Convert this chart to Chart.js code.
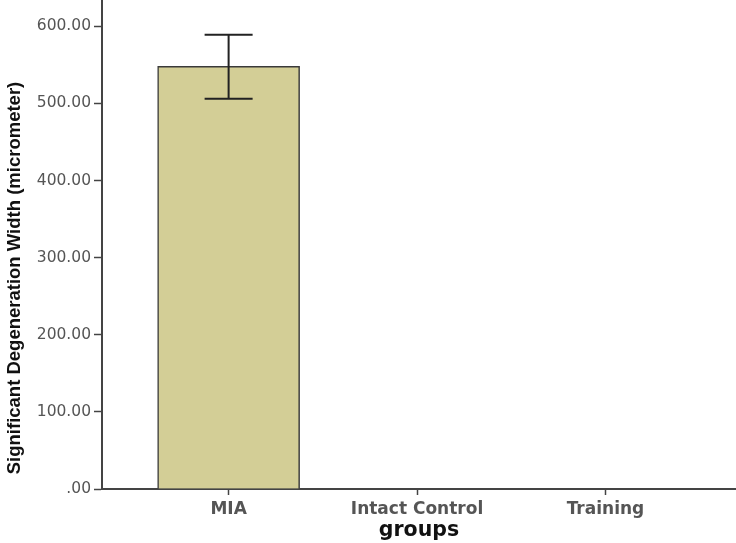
<!DOCTYPE html>
<html>
<head>
<meta charset="utf-8">
<script src="https://cdn.jsdelivr.net/npm/chart.js@4/dist/chart.umd.min.js"></script>
<style>
  html, body { margin: 0; padding: 0; background: #fff; }
  #wrap { width: 736px; height: 543px; position: relative; }
</style>
</head>
<body>
<div id="wrap"><canvas id="c" width="736" height="543"></canvas></div>
<script>
const categories = ["MIA", "Intact Control", "Training"];
const meanWidth = [548, 0, 0];
const errLow = [506, null, null];
const errHigh = [589, null, null];
const yTicks = [0, 100, 200, 300, 400, 500, 600];
const yTitle = "Significant Degeneration Width (micrometer)";
const xTitle = "groups";

const points = categories.map((c, i) => ({ x: i, y: meanWidth[i] }));

const errorBarPlugin = {
  id: 'errorBars',
  afterDatasetsDraw(chart) {
    const { ctx, scales: { x, y } } = chart;
    ctx.save();
    ctx.strokeStyle = '#222';
    ctx.lineWidth = 2;
    for (let i = 0; i < categories.length; i++) {
      if (errLow[i] == null || errHigh[i] == null) continue;
      const cx = x.getPixelForValue(i);
      const yl = y.getPixelForValue(errLow[i]);
      const yh = y.getPixelForValue(errHigh[i]);
      const half = 24;
      ctx.beginPath();
      ctx.moveTo(cx, yl); ctx.lineTo(cx, yh);
      ctx.moveTo(cx - half, yl); ctx.lineTo(cx + half, yl);
      ctx.moveTo(cx - half, yh); ctx.lineTo(cx + half, yh);
      ctx.stroke();
    }
    ctx.restore();
  }
};

const yTitlePlugin = {
  id: 'yTitle',
  afterDraw(chart) {
    const ctx = chart.ctx;
    ctx.save();
    ctx.translate(15, 278);
    ctx.rotate(-Math.PI / 2);
    ctx.font = 'bold 18.5px "Liberation Sans Narrow", "Liberation Sans", sans-serif';
    ctx.fillStyle = '#111';
    ctx.textAlign = 'center';
    ctx.textBaseline = 'middle';
    ctx.fillText(yTitle, 0, 0);
    ctx.restore();
  }
};

new Chart(document.getElementById('c'), {
  type: 'bar',
  data: {
    datasets: [{
      data: points,
      backgroundColor: (ctx) => (ctx.raw && ctx.raw.y > 0 ? '#d3ce96' : 'rgba(0,0,0,0)'),
      borderColor: '#3a3a3a',
      borderWidth: (ctx) => (ctx.raw && ctx.raw.y > 0 ? 1.5 : 0),
      borderSkipped: 'start',
      barThickness: 142
    }]
  },
  options: {
    responsive: false,
    animation: false,
    layout: { padding: 0 },
    plugins: { legend: { display: false }, tooltip: { enabled: false } },
    scales: {
      x: {
        type: 'linear',
        offset: false,
        min: -0.672,
        max: 2.693,
        afterBuildTicks: (s) => { s.ticks = categories.map((c, i) => ({ value: i })); },
        afterFit: (s) => { s.height = 54; s.paddingLeft = 0; s.paddingRight = 0; },
        border: { display: true, color: '#444', width: 2 },
        grid: { offset: false, drawOnChartArea: false, drawTicks: true, tickLength: 6, color: '#444', tickWidth: 1.5 },
        ticks: {
          autoSkip: false,
          maxRotation: 0,
          padding: 4,
          color: '#555',
          font: { family: 'DejaVu Sans', size: 17, weight: 'bold' },
          callback: (v) => categories[v] ?? ''
        },
        title: {
          display: true,
          text: xTitle,
          color: '#111',
          font: { family: 'DejaVu Sans', size: 20.5, weight: 'bold' },
          padding: { top: 0, bottom: 0 }
        }
      },
      y: {
        min: 0,
        max: 634,
        afterBuildTicks: (s) => { s.ticks = yTicks.map(v => ({ value: v })); },
        afterFit: (s) => { s.width = 102; s.paddingTop = 0; s.paddingBottom = 0; },
        border: { display: true, color: '#444', width: 2 },
        grid: { drawOnChartArea: false, drawTicks: true, tickLength: 8, color: '#444', tickWidth: 1.5 },
        ticks: {
          padding: 3,
          color: '#555',
          font: { family: 'DejaVu Sans', size: 15.5 },
          callback: (v) => (v === 0 ? '.00' : v.toFixed(2))
        }
      }
    }
  },
  plugins: [errorBarPlugin, yTitlePlugin]
});
</script>
</body>
</html>
